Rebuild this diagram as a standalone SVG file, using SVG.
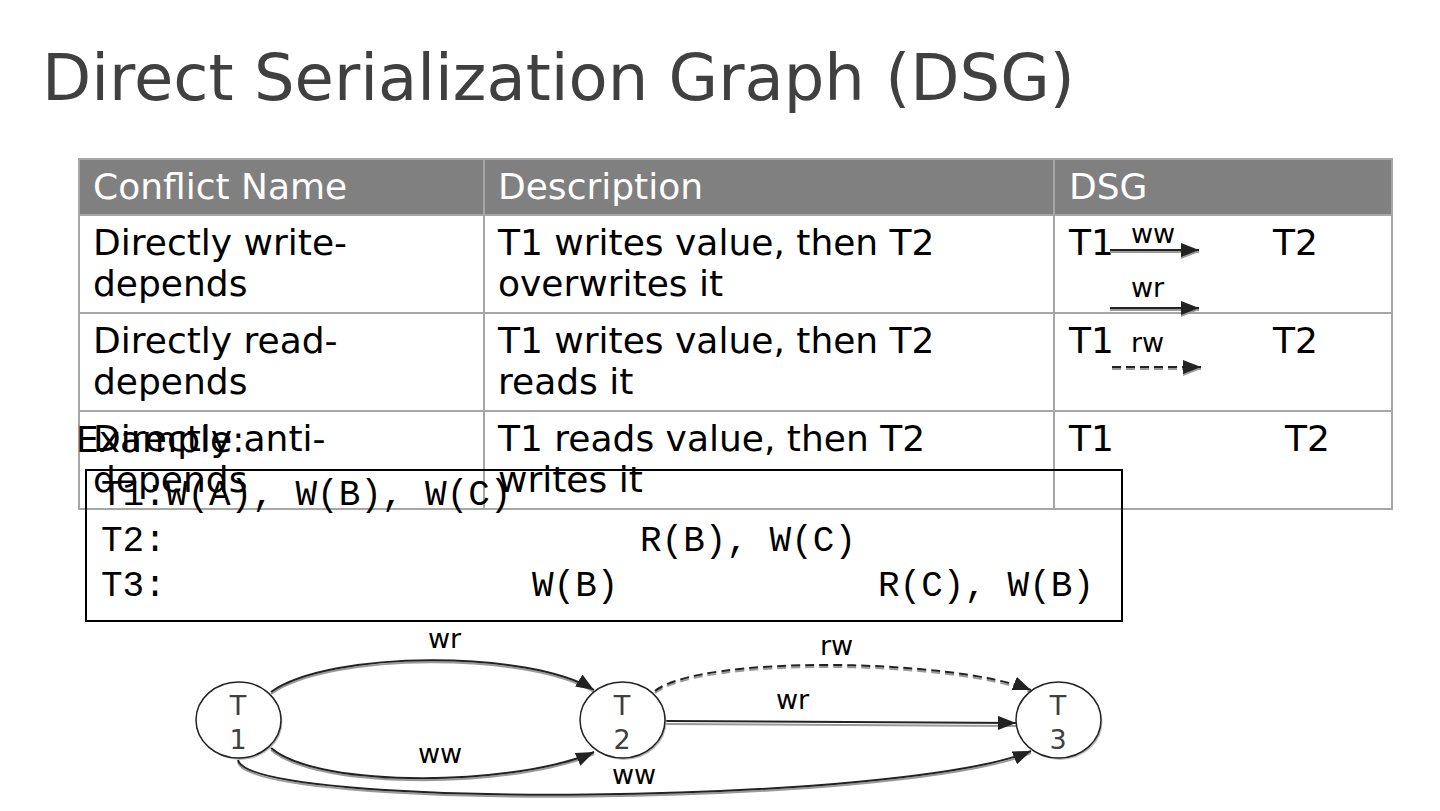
<svg xmlns="http://www.w3.org/2000/svg" width="1440" height="811" viewBox="0 0 1440 811">
<style>
.t{font-family:"DejaVu Sans",sans-serif;font-size:36px;fill:#000}
.h{font-family:"DejaVu Sans",sans-serif;font-size:36px;fill:#fff}
.s{font-family:"DejaVu Sans",sans-serif;font-size:27px;fill:#000}
.n{font-family:"DejaVu Sans",sans-serif;font-size:27px;fill:#404040;text-anchor:middle}
.m{font-family:"Liberation Mono",monospace;font-size:36px;fill:#000}
.grid{stroke:#a6a6a6;stroke-width:2;fill:none}
.e{fill:none;stroke:#222;stroke-width:2}
.sh{fill:none;stroke:#9a9a9a;stroke-width:2}
.d{stroke-dasharray:9 5}
</style>
<defs>
<marker id="ahb" markerWidth="20" markerHeight="14" refX="18" refY="7" orient="auto" markerUnits="userSpaceOnUse">
<path d="M0,0 L18,7 L0,14 z" fill="#222"/>
</marker>
<marker id="ahs" markerWidth="20" markerHeight="14" refX="18" refY="7" orient="auto" markerUnits="userSpaceOnUse">
<path d="M0,0 L18,7 L0,14 z" fill="#9a9a9a"/>
</marker>
</defs>
<rect width="1440" height="811" fill="#fff"/>
<text x="42" y="100" font-family="DejaVu Sans, sans-serif" font-size="64" fill="#404040">Direct Serialization Graph (DSG)</text>
<g id="table">
<rect x="79" y="159" width="1313" height="56" fill="#808080"/>
<rect x="79" y="159" width="1313" height="350" class="grid"/>
<line x1="79" y1="215" x2="1392" y2="215" class="grid"/>
<line x1="79" y1="313" x2="1392" y2="313" class="grid"/>
<line x1="79" y1="411" x2="1392" y2="411" class="grid"/>
<line x1="484" y1="159" x2="484" y2="509" class="grid"/>
<line x1="1054" y1="159" x2="1054" y2="509" class="grid"/>
<text x="93" y="199" class="h">Conflict Name</text>
<text x="498" y="199" class="h">Description</text>
<text x="1069" y="199" class="h">DSG</text>
<text x="93" y="255" class="t">Directly write-</text>
<text x="93" y="296" class="t">depends</text>
<text x="498" y="255" class="t">T1 writes value, then T2</text>
<text x="498" y="296" class="t">overwrites it</text>
<text x="1069" y="255" class="t">T1</text>
<text x="1273" y="255" class="t">T2</text>
<text x="93" y="353" class="t">Directly read-</text>
<text x="93" y="394" class="t">depends</text>
<text x="498" y="353" class="t">T1 writes value, then T2</text>
<text x="498" y="394" class="t">reads it</text>
<text x="1069" y="353" class="t">T1</text>
<text x="1273" y="353" class="t">T2</text>
<text x="93" y="451" class="t">Directly anti-</text>
<text x="93" y="492" class="t">depends</text>
<text x="498" y="451" class="t">T1 reads value, then T2</text>
<text x="498" y="492" class="t">writes it</text>
<text x="1069" y="451" class="t">T1</text>
<text x="1285" y="451" class="t">T2</text>
<g id="legend">
<line x1="1110" y1="252" x2="1199" y2="252" class="sh" marker-end="url(#ahs)" stroke-width="3"/>
<line x1="1110" y1="250" x2="1199" y2="250" class="e" stroke-width="3" marker-end="url(#ahb)"/>
<text x="1131" y="243" class="s">ww</text>
<line x1="1110" y1="310" x2="1199" y2="310" class="sh" marker-end="url(#ahs)" stroke-width="3"/>
<line x1="1110" y1="308" x2="1199" y2="308" class="e" stroke-width="3" marker-end="url(#ahb)"/>
<text x="1131" y="297" class="s">wr</text>
<line x1="1112" y1="369" x2="1201" y2="369" class="sh d" marker-end="url(#ahs)" stroke-width="3"/>
<line x1="1112" y1="367" x2="1201" y2="367" class="e d" stroke-width="3" marker-end="url(#ahb)"/>
<text x="1131" y="352" class="s">rw</text>
</g>
</g>
<text x="76" y="452" class="t">Example:</text>
<g id="schedule">
<rect x="86" y="470" width="1036" height="151" fill="none" stroke="#000" stroke-width="2"/>
<text x="101" y="505" class="m">T1:W(A), W(B), W(C)</text>
<text y="551" class="m"><tspan x="101">T2:</tspan><tspan x="640">R(B), W(C)</tspan></text>
<text y="596" class="m"><tspan x="101">T3:</tspan><tspan x="532">W(B)</tspan><tspan x="878">R(C), W(B)</tspan></text>
</g>
<g id="connectors">
<path d="M271,692 C330,650 530,650 594,690" class="sh" transform="translate(0,2)"/>
<path d="M271,692 C330,650 530,650 594,690" class="e" marker-end="url(#ahb)"/>
<path d="M271,748 C320,790 520,785 594,752" class="sh" transform="translate(0,2)"/>
<path d="M271,748 C320,790 520,785 594,752" class="e" marker-end="url(#ahb)"/>
<path d="M238,760 C250,810 900,805 1031,751" class="sh" transform="translate(0,2)"/>
<path d="M238,760 C250,810 900,805 1031,751" class="e" marker-end="url(#ahb)"/>
<path d="M655,691 C700,655 950,658 1031,690" class="sh d" transform="translate(0,2)"/>
<path d="M655,691 C700,655 950,658 1031,690" class="e d" marker-end="url(#ahb)"/>
<path d="M666,722 L1016,724" class="sh" transform="translate(0,2)"/>
<path d="M666,721 L1016,723" class="e" marker-end="url(#ahb)"/>
<text x="428" y="648" class="s">wr</text>
<text x="418" y="763" class="s">ww</text>
<text x="612" y="784" class="s">ww</text>
<text x="820" y="655" class="s">rw</text>
<text x="776" y="709" class="s">wr</text>
</g>
<g id="T1">
<ellipse cx="240" cy="722" rx="42.5" ry="38" fill="#bbb"/>
<ellipse cx="238.5" cy="720" rx="42.5" ry="38" fill="#fff" stroke="#222" stroke-width="1.5"/>
<text x="238" y="715" class="n">T</text>
<text x="238" y="749" class="n">1</text>
</g>
<g id="T2">
<ellipse cx="624" cy="722" rx="42.5" ry="38" fill="#bbb"/>
<ellipse cx="622.5" cy="720" rx="42.5" ry="38" fill="#fff" stroke="#222" stroke-width="1.5"/>
<text x="622" y="715" class="n">T</text>
<text x="622" y="749" class="n">2</text>
</g>
<g id="T3">
<ellipse cx="1060" cy="722" rx="42.5" ry="38" fill="#bbb"/>
<ellipse cx="1058.5" cy="720" rx="42.5" ry="38" fill="#fff" stroke="#222" stroke-width="1.5"/>
<text x="1058" y="715" class="n">T</text>
<text x="1058" y="749" class="n">3</text>
</g>
</svg>
